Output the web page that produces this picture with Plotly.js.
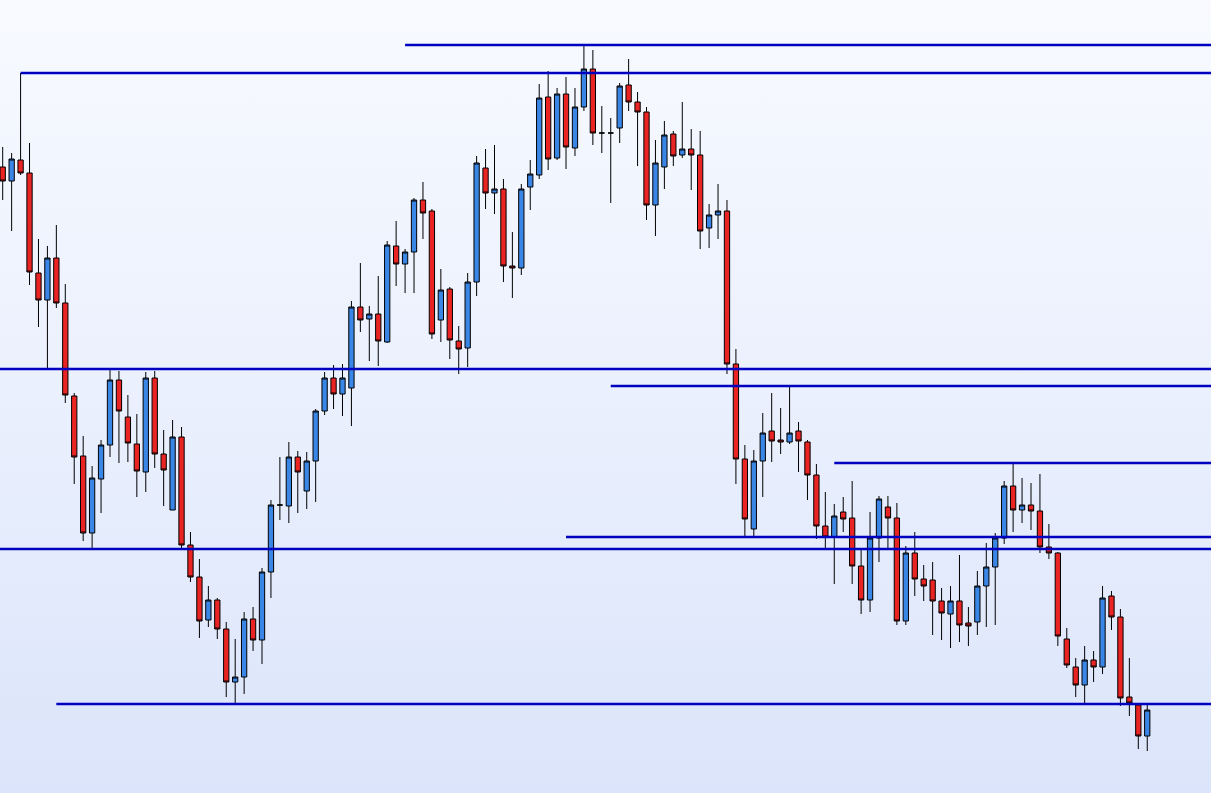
<!DOCTYPE html>
<html>
<head>
<meta charset="utf-8">
<script src="https://cdn.plot.ly/plotly-3.0.1.min.js"></script>
<style>
  html, body { margin: 0; padding: 0; width: 1211px; height: 793px; overflow: hidden; }
  body { background: linear-gradient(to bottom, #f8faff 0%, #eaf0fd 50%, #dbe4fa 100%); }
  #chart { width: 1211px; height: 793px; }
</style>
</head>
<body>
<div id="chart"></div>
<script>
// OHLC prices (arbitrary price units)
const open  = [633,619,640,627,527,500,542,497,404,344,267,321,355,420,383,356,328,422,346,290,363,255,223,180,200,171,118,123,181,160,228,295,294,343,309,339,389,422,406,412,493,481,486,458,554,536,548,600,589,480,511,459,452,518,632,607,611,534,532,613,625,703,642,706,652,693,731,667,667,672,715,698,688,595,633,666,645,651,645,572,585,589,436,341,271,339,369,360,358,369,358,325,274,263,288,282,234,200,262,293,282,179,247,221,220,199,186,199,177,178,214,233,262,314,290,295,289,253,247,161,133,115,140,133,204,183,103,95,64];
const high  = [653,647,727,657,561,554,575,516,407,364,334,360,430,429,405,386,428,429,370,380,373,268,241,214,202,178,161,188,193,232,300,343,358,349,348,391,428,435,436,499,537,494,524,559,579,551,602,618,591,531,513,474,527,644,651,655,621,568,616,640,716,729,712,723,712,755,750,694,682,717,741,708,693,660,679,669,698,671,669,596,616,600,451,355,350,387,407,392,414,378,360,336,308,296,303,319,250,288,304,304,297,254,268,235,238,212,214,245,193,229,257,267,319,336,322,317,326,276,248,172,142,154,149,214,209,191,142,95,95];
const low   = [600,569,625,515,473,431,492,397,316,259,251,287,343,337,338,303,308,332,294,290,251,218,162,173,161,103,97,106,149,136,202,280,277,287,291,298,385,391,384,374,468,439,434,457,514,507,507,561,461,458,441,426,433,504,591,586,518,502,525,590,621,630,640,631,644,689,655,647,597,657,689,634,580,564,611,634,642,610,551,552,561,426,316,264,264,303,338,346,356,328,300,261,251,216,268,216,186,188,238,251,175,175,204,199,165,160,152,158,154,165,173,175,256,268,277,270,247,241,154,132,103,97,118,126,170,94,84,51,49];
const close = [619,641,627,528,500,542,497,405,343,267,322,355,420,389,357,329,422,346,330,363,255,223,179,200,171,118,123,181,160,228,295,295,343,328,339,389,422,406,422,493,480,486,459,555,536,548,600,587,466,510,460,451,518,637,607,611,534,532,611,626,702,641,706,653,693,731,667,667,667,714,698,688,595,637,665,644,651,645,569,585,589,436,341,281,339,367,359,358,367,359,325,274,263,284,281,234,200,262,301,282,179,247,221,214,199,187,199,175,174,214,233,262,314,290,295,289,253,247,164,135,115,140,133,202,183,102,97,64,90];

// Horizontal support / resistance levels and the candle index where each starts
const levelPrices = [755, 727, 431, 414, 337, 263, 251, 96];
const levelStarts = [45, 2, -5, 68, 93, 63, -5, 6];

const xIdx = open.map((_, i) => i);

const trace = {
  type: 'candlestick',
  x: xIdx,
  open: open, high: high, low: low, close: close,
  increasing: { line: { color: '#000000', width: 1 }, fillcolor: '#3a86e6' },
  decreasing: { line: { color: '#000000', width: 1 }, fillcolor: '#ea2323' },
  whiskerwidth: 0,
  hoverinfo: 'skip'
};

const shapes = levelPrices.map((p, k) => ({
  type: 'line', xref: 'x', yref: 'y',
  x0: levelStarts[k], x1: 150, y0: p, y1: p,
  line: { color: '#0000c0', width: 2.5 },
  layer: 'above'
}));

const layout = {
  width: 1211, height: 793,
  margin: { l: 0, r: 0, t: 0, b: 0, pad: 0 },
  paper_bgcolor: 'rgba(0,0,0,0)',
  plot_bgcolor: 'rgba(0,0,0,0)',
  showlegend: false,
  boxgap: 0.26,
  boxgroupgap: 0.2,
  xaxis: { range: [-0.302, 135.13], visible: false, rangeslider: { visible: false }, fixedrange: true },
  yaxis: { range: [7, 800], visible: false, fixedrange: true },
  shapes: shapes
};

Plotly.newPlot('chart', [trace], layout, { displayModeBar: false, staticPlot: true });
</script>
</body>
</html>
